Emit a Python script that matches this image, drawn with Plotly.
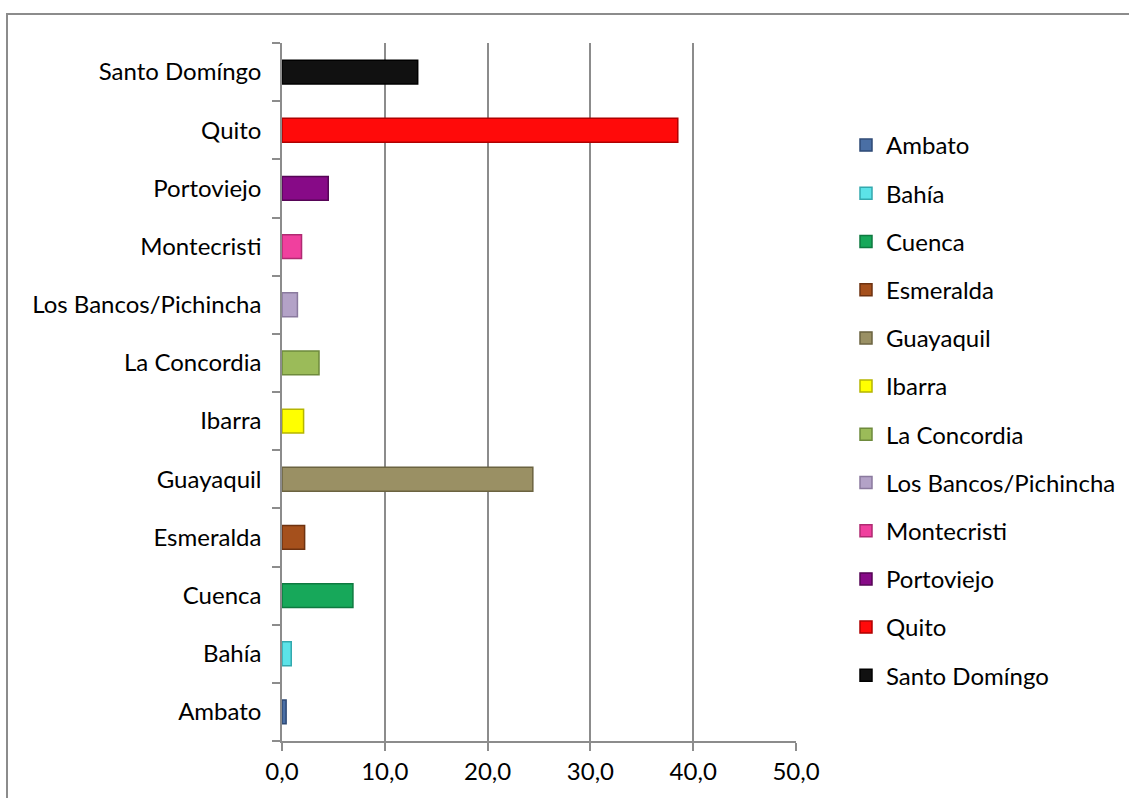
import plotly.graph_objects as go

cities = ["Ambato", "Bahía", "Cuenca", "Esmeralda", "Guayaquil", "Ibarra",
          "La Concordia", "Los Bancos/Pichincha", "Montecristi", "Portoviejo",
          "Quito", "Santo Domíngo"]
values = [0.4, 0.9, 6.9, 2.2, 24.4, 2.1, 3.6, 1.5, 1.9, 4.5, 38.5, 13.2]
colors = ["#4A6FA5", "#5CE3E8", "#17A85A", "#A5501C", "#9A9064", "#FFFF00",
          "#9BBB59", "#B3A2C7", "#F0409E", "#870A87", "#FF0A0A", "#111111"]
lines = ["#2E4A75", "#33A9AE", "#0E7A40", "#6E3210", "#6B6340", "#B5B500",
         "#6E8A3C", "#8A7A9E", "#B02A72", "#560556", "#B00000", "#000000"]

fig = go.Figure()
for c, v, col, lc in zip(cities, values, colors, lines):
    fig.add_trace(go.Bar(
        y=[c], x=[v], orientation="h", name=c, legendgroup=c,
        marker=dict(color=col, line=dict(color=lc, width=1.5)),
        width=0.41,
    ))

FW, FH = 1129, 798
L, R, T, B = 282, FW - 796, 43, FH - 741
W = FW - L - R
H = FH - T - B

def px_x(p):
    return (p - L) / W

def px_y(p):
    return (FH - B - p) / H

fig.add_shape(type="rect", xref="paper", yref="paper",
              x0=px_x(7), x1=px_x(1140), y0=px_y(810), y1=px_y(14),
              line=dict(color="#8C8C8C", width=2), fillcolor="rgba(0,0,0,0)",
              layer="below")

FS = 24
fig.update_layout(
    width=FW, height=FH,
    margin=dict(l=L, r=R, t=T, b=B, autoexpand=False),
    paper_bgcolor="white", plot_bgcolor="white",
    barmode="overlay",
    separators=",.",
    font=dict(family="Lato, Open Sans, sans-serif", size=FS, color="#000000"),
    showlegend=True,
    legend=dict(
        xref="container", yref="container",
        x=846 / FW, xanchor="left", y=1 - 123 / FH, yanchor="top",
        traceorder="grouped", tracegroupgap=14, maxheight=700,
        font=dict(size=FS), itemwidth=30,
        bgcolor="rgba(0,0,0,0)",
    ),
    xaxis=dict(
        range=[0, 50], dtick=10, tick0=0, tickformat=".1f",
        showgrid=True, gridcolor="#8C8C8C", gridwidth=1.5,
        showline=True, linecolor="#8C8C8C", linewidth=1.5,
        ticks="outside", ticklen=8, tickcolor="#8C8C8C", tickwidth=1.5,
        zeroline=False, fixedrange=True,
        tickfont=dict(size=FS),
    ),
    yaxis=dict(
        type="category", categoryorder="array", categoryarray=cities,
        showline=True, linecolor="#8C8C8C", linewidth=1.5,
        ticks="outside", ticklen=8, tickcolor="#8C8C8C", tickwidth=1.5,
        tickson="boundaries", showgrid=False,
        ticklabelstandoff=14,
        tickfont=dict(size=FS),
    ),
)

fig.write_html("out.html")
